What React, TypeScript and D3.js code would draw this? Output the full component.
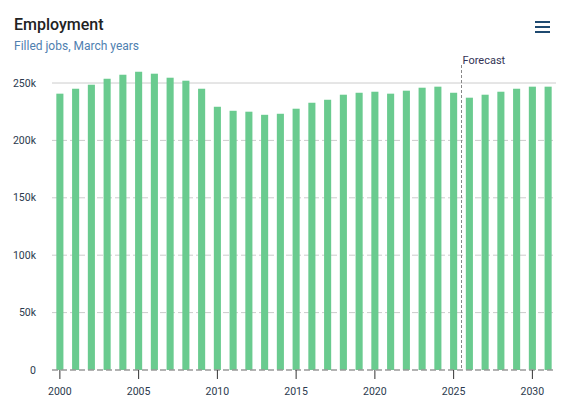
import React from "react";
import * as d3 from "d3";

const years: number[] = d3.range(2000, 2032);
const filledJobs: number[] = [
  240.7, 245.0, 248.5, 253.7, 257.2, 259.8, 258.1, 254.6, 252.0, 245.0,
  229.3, 225.8, 225.0, 222.3, 223.2, 227.6, 232.8, 235.4, 239.8, 241.5,
  242.4, 240.7, 243.3, 245.9, 246.8, 241.5, 237.2, 239.8, 242.4, 245.0,
  246.8, 246.8,
].map((v) => v * 1000);
const yTicks: number[] = [0, 50000, 100000, 150000, 200000, 250000];
const xTickYears: number[] = [2000, 2005, 2010, 2015, 2020, 2025, 2030];
const forecastStart = 2026;

const W = 575;
const H = 416;
const margin = { top: 83, right: 19, bottom: 46, left: 52 };
const font = "Roboto, 'Noto Sans', sans-serif";

export default function App() {
  const innerW = W - margin.left - margin.right;
  const innerH = H - margin.top - margin.bottom;

  const x = d3
    .scaleBand<number>()
    .domain(years)
    .range([margin.left, margin.left + innerW])
    .paddingInner(0.55)
    .paddingOuter(0.275);
  const y = d3.scaleLinear().domain([0, 250000]).range([margin.top + innerH, margin.top]);

  const step = x.step();
  const center = (yr: number) => (x(yr) ?? 0) + x.bandwidth() / 2;
  const forecastX = center(forecastStart) - step / 2;
  const fmt = (v: number) => (v === 0 ? "0" : `${v / 1000}k`);

  return (
    <div style={{ margin: -8 }}>
      <svg width={W} height={H} style={{ display: "block", fontFamily: font }}>
        <rect width={W} height={H} fill="#ffffff" />
        <text x={14} y={30} fontSize={16} fontWeight={500} fill="#222222">
          Employment
        </text>
        <text x={14} y={50} fontSize={12} fill="#4f80b0">
          Filled jobs, March years
        </text>

        {/* menu icon */}
        {[22, 27, 32].map((yy) => (
          <line key={yy} x1={535} x2={550} y1={yy} y2={yy} stroke="#1f4a70" strokeWidth={2} />
        ))}

        {/* grid */}
        {yTicks.map((t) => (
          <g key={t}>
            {t > 0 && (
              <line
                x1={margin.left}
                x2={margin.left + innerW}
                y1={y(t)}
                y2={y(t)}
                stroke="#cccccc"
                strokeWidth={1}
                strokeDasharray={t === 250000 ? undefined : "6,3"}
              />
            )}
            <text
              x={36}
              y={y(t)}
              dy="0.35em"
              textAnchor="end"
              fontSize={10.5}
              fill="#2b3a4e"
            >
              {fmt(t)}
            </text>
          </g>
        ))}

        {/* bars */}
        {years.map((yr, i) => (
          <rect
            key={yr}
            x={x(yr)}
            y={y(filledJobs[i])}
            width={x.bandwidth()}
            height={y(0) - y(filledJobs[i])}
            fill="#6acb8f"
          />
        ))}

        {/* x axis */}
        <line
          x1={margin.left}
          x2={margin.left + innerW}
          y1={y(0)}
          y2={y(0)}
          stroke="#999999"
          strokeWidth={1.5}
          strokeDasharray="6,3"
        />
        {xTickYears.map((yr) => (
          <g key={yr}>
            <line x1={center(yr)} x2={center(yr)} y1={y(0)} y2={y(0) + 9} stroke="#333333" strokeWidth={1} />
            <text x={center(yr)} y={y(0) + 25} textAnchor="middle" fontSize={10.5} fill="#2b3a4e">
              {yr}
            </text>
          </g>
        ))}

        {/* forecast marker */}
        <line
          x1={forecastX}
          x2={forecastX}
          y1={65}
          y2={y(0)}
          stroke="#888888"
          strokeWidth={1}
          strokeDasharray="3,2"
        />
        <text x={forecastX + 1} y={64} fontSize={11} fill="#333355">
          Forecast
        </text>
      </svg>
    </div>
  );
}
